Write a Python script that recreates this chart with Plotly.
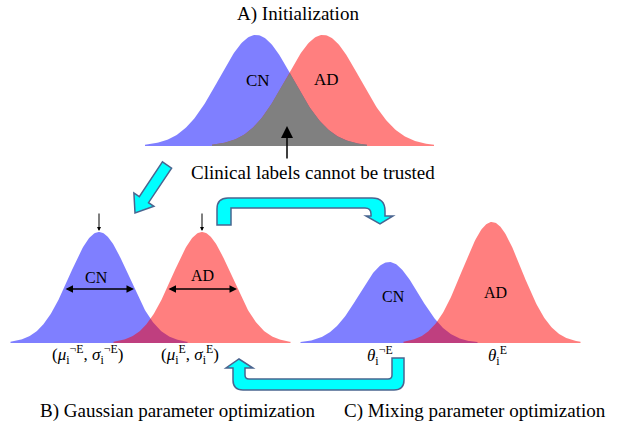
import math
import numpy as np
import plotly.graph_objects as go

# ---- data (diagram units = pixels of the 624x427 canvas, y grows downward) ----
groups = ["CN", "AD"]
top_means = [256, 323]
top_sigma = [37, 37]
top_heights = [111, 111]
top_base = 146

b_means = [99, 202]
b_sigma = [29.5, 29.5]
b_heights = [111, 111]
b_base = 343

c_means = [389, 492]
c_sigma = [29.5, 29.5]
c_heights = [81, 121]
c_base = 343

BLUE = "rgba(0,0,255,0.5)"
RED = "rgba(255,0,0,0.5)"
FONT = "Liberation Serif, Times New Roman, serif"

fig = go.Figure()


def gauss(x, m, s, h):
    return h * np.exp(-((x - m) ** 2) / (2 * s * s))


def add_pair(means, sigmas, heights, base, overlap_color=None):
    for m, s, h, col in zip(means, sigmas, heights, [BLUE, RED]):
        x = np.linspace(m - 3 * s, m + 3 * s, 200)
        y = base - gauss(x, m, s, h)
        fig.add_trace(go.Scatter(
            x=np.concatenate([x, [x[-1], x[0]]]),
            y=np.concatenate([y, [base, base]]),
            fill="toself", fillcolor=col, mode="lines",
            line=dict(width=0), hoverinfo="skip", showlegend=False))
    if overlap_color:
        lo = means[1] - 3 * sigmas[1]
        hi = means[0] + 3 * sigmas[0]
        x = np.linspace(lo, hi, 200)
        y = base - np.minimum(gauss(x, means[0], sigmas[0], heights[0]),
                              gauss(x, means[1], sigmas[1], heights[1]))
        fig.add_trace(go.Scatter(
            x=np.concatenate([x, [x[-1], x[0]]]),
            y=np.concatenate([y, [base, base]]),
            fill="toself", fillcolor=overlap_color, mode="lines",
            line=dict(width=0), hoverinfo="skip", showlegend=False))


add_pair(top_means, top_sigma, top_heights, top_base, overlap_color="#808080")
add_pair(b_means, b_sigma, b_heights, b_base)
add_pair(c_means, c_sigma, c_heights, c_base)


def txt(x, y, s, size=16):
    fig.add_annotation(x=x, y=y, text=s, showarrow=False, xref="x", yref="y",
                       font=dict(family=FONT, size=size, color="black"),
                       xanchor="center", yanchor="middle")


txt(298, 14, "A) Initialization", 19)
txt(258, 80, "CN", 17)
txt(326, 79, "AD", 17)
txt(313, 172, "Clinical labels cannot be trusted", 19)
txt(96, 277, "CN", 16)
txt(202, 275, "AD", 16)
txt(393, 296, "CN", 16)
txt(495, 292, "AD", 16)
txt(87, 354, "(<i>μ</i><sub>i</sub><sup>¬E</sup>, <i>σ</i><sub>i</sub><sup>¬E</sup>)", 17)
txt(190, 354, "(<i>μ</i><sub>i</sub><sup>E</sup>, <i>σ</i><sub>i</sub><sup>E</sup>)", 17)
txt(380, 355, "<i>θ</i><sub>i</sub><sup>¬E</sup>", 17)
txt(497, 355, "<i>θ</i><sub>i</sub><sup>E</sup>", 17)
txt(177, 411, "B) Gaussian parameter optimization", 19)
txt(475, 411, "C) Mixing parameter optimization", 19)


def arrow(x0, y0, x1, y1, head=2, size=1, width=1, side="end"):
    fig.add_annotation(x=x1, y=y1, ax=x0, ay=y0, xref="x", yref="y",
                       axref="x", ayref="y", showarrow=True, text="",
                       arrowhead=head, arrowsize=size, arrowwidth=width,
                       arrowcolor="black", arrowside=side)


# black pointers
arrow(287, 160, 287, 126, head=2, size=1.6, width=1.5)
arrow(99, 212, 99, 231, head=2, size=0.8, width=1)
arrow(202, 212, 202, 231, head=2, size=0.8, width=1)
# width arrows
arrow(64, 289, 134, 289, head=2, size=1.0, width=1.5, side="end+start")
arrow(167, 289, 237, 289, head=2, size=1.0, width=1.5, side="end+start")

# cyan block arrows
CYAN = "#00ffff"
EDGE = "#4a6590"

T = (167, 165)
P = (135, 213)
L = math.hypot(P[0] - T[0], P[1] - T[1])
d = ((P[0] - T[0]) / L, (P[1] - T[1]) / L)
n = (-d[1], d[0])
w, hw, hl = 5.5, 12, 16
H = (P[0] - d[0] * hl, P[1] - d[1] * hl)
pts = [(T[0] + n[0] * w, T[1] + n[1] * w), (H[0] + n[0] * w, H[1] + n[1] * w),
       (H[0] + n[0] * hw, H[1] + n[1] * hw), P,
       (H[0] - n[0] * hw, H[1] - n[1] * hw), (H[0] - n[0] * w, H[1] - n[1] * w),
       (T[0] - n[0] * w, T[1] - n[1] * w)]
path1 = "M " + " L ".join(f"{px:.1f},{py:.1f}" for px, py in pts) + " Z"

path2 = ("M 217,225 L 217,209 Q 217,198 228,198 L 372,198 Q 385,198 385,211 "
         "L 385,216 L 393,216 L 380,224 L 366,216 L 371,216 L 371,214 "
         "Q 371,208 365,208 L 231,208 L 231,225 Z")

path3 = ("M 392,358 L 404,358 L 404,380 Q 404,390 394,390 L 243,390 "
         "Q 233,390 233,380 L 233,368 L 226,368 L 239,359 L 253,368 L 245,368 "
         "L 245,375 Q 245,379 249,379 L 388,379 Q 392,379 392,375 Z")

for p in (path1, path2, path3):
    fig.add_shape(type="path", path=p, xref="x", yref="y",
                  fillcolor=CYAN, line=dict(color=EDGE, width=1.5), layer="above")

fig.update_layout(
    width=624, height=427,
    margin=dict(l=0, r=0, t=0, b=0),
    paper_bgcolor="white", plot_bgcolor="white",
    font=dict(family=FONT),
    xaxis=dict(range=[0, 624], visible=False, fixedrange=True),
    yaxis=dict(range=[427, 0], visible=False, fixedrange=True),
    showlegend=False,
)

fig.write_html("out.html", config={"displayModeBar": False},
               post_script="document.body.style.margin='0';document.body.style.overflow='hidden';")
